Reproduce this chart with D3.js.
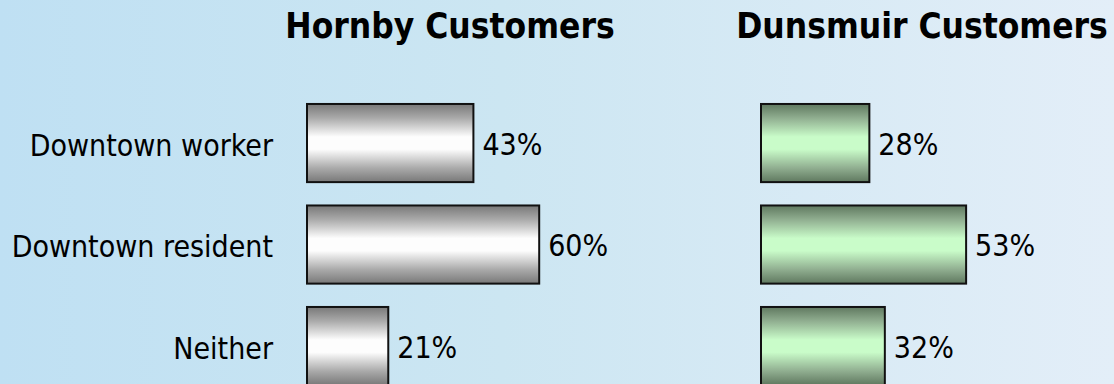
<!DOCTYPE html>
<html>
<head>
<meta charset="utf-8">
<script src="https://cdn.jsdelivr.net/npm/d3@7"></script>
<style>
  html, body { margin: 0; padding: 0; overflow: hidden; }
  svg { display: block; }
  text { font-family: "DejaVu Sans Condensed", "DejaVu Sans", sans-serif; font-stretch: condensed; fill: #000; }
</style>
</head>
<body>
<svg id="chart" width="1114" height="384"></svg>
<script>
// Customer profile by store location (share of customers, %)
const categories = ["Downtown worker", "Downtown resident", "Neither"];
const hornbyValues = [43, 60, 21];
const dunsmuirValues = [28, 53, 32];
const panelTitles = ["Hornby Customers", "Dunsmuir Customers"];

const width = 1114, height = 384;
const svg = d3.select("#chart");
const defs = svg.append("defs");

// Soft left-to-right sky background
const bg = defs.append("linearGradient").attr("id", "bg").attr("x1", 0).attr("x2", 1).attr("y1", 0).attr("y2", 0);
bg.append("stop").attr("offset", 0).attr("stop-color", "#bfe0f3");
bg.append("stop").attr("offset", 0.45).attr("stop-color", "#cce6f2");
bg.append("stop").attr("offset", 1).attr("stop-color", "#e3eef8");
svg.append("rect").attr("width", width).attr("height", height).attr("fill", "url(#bg)");

// Cylinder-style vertical shading for each panel's bars
function barGradient(id, edge, soft, mid) {
  const g = defs.append("linearGradient").attr("id", id).attr("x1", 0).attr("x2", 0).attr("y1", 0).attr("y2", 1);
  [[0, edge], [0.18, soft], [0.42, mid], [0.5, mid], [0.58, mid], [0.82, soft], [1, edge]]
    .forEach(([o, c]) => g.append("stop").attr("offset", o).attr("stop-color", c));
}
barGradient("barGrey", "#787878", "#aaaaaa", "#fdfdfd");
barGradient("barGreen", "#5f785f", "#90ae90", "#c9fcc9");

const y = d3.scaleBand()
  .domain(categories)
  .range([92.3, 396.8])
  .paddingInner(0.23)
  .paddingOuter(0.115);

const x = d3.scaleLinear().domain([0, 100]).range([0, 387]);

const panels = [
  { title: panelTitles[0], values: hornbyValues, left: 307, titleX: 450, fill: "url(#barGrey)" },
  { title: panelTitles[1], values: dunsmuirValues, left: 761, titleX: 922, fill: "url(#barGreen)" }
];

// Category labels along the left
const yAxis = d3.axisLeft(y).tickSize(0).tickPadding(0);
const axisG = svg.append("g").attr("transform", "translate(273,0)").call(yAxis);
axisG.select(".domain").remove();
axisG.attr("font-family", null).attr("font-size", null);
axisG.selectAll("text")
  .attr("font-size", 30)
  .attr("dy", "0.42em");

panels.forEach(p => {
  const g = svg.append("g").attr("transform", `translate(${p.left},0)`);

  svg.append("text")
    .attr("x", p.titleX)
    .attr("y", 38)
    .attr("text-anchor", "middle")
    .attr("font-size", 35)
    .attr("font-weight", "bold")
    .text(p.title);

  g.selectAll("rect.bar")
    .data(categories)
    .join("rect")
    .attr("class", "bar")
    .attr("x", 0)
    .attr("y", d => y(d))
    .attr("width", (d, i) => x(p.values[i]))
    .attr("height", y.bandwidth())
    .attr("fill", p.fill)
    .attr("stroke", "#111")
    .attr("stroke-width", 2);

  g.selectAll("text.val")
    .data(categories)
    .join("text")
    .attr("class", "val")
    .attr("x", (d, i) => x(p.values[i]) + 9)
    .attr("y", d => y(d) + y.bandwidth() / 2)
    .attr("dy", "0.39em")
    .attr("font-size", 30)
    .text((d, i) => p.values[i] + "%");
});
</script>
</body>
</html>
